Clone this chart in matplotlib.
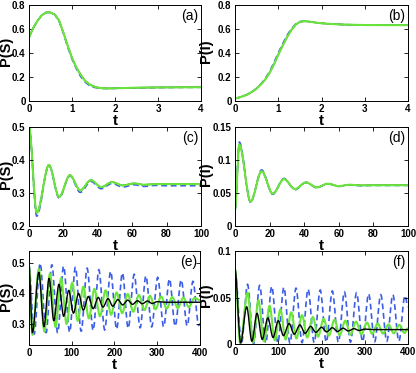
import matplotlib
matplotlib.use("Agg")
import matplotlib.pyplot as plt
from matplotlib.path import Path
from matplotlib.patches import PathPatch

plt.rcParams['font.family'] = ['Liberation Sans', 'DejaVu Sans']

BLACK = '#000000'
BLUE = '#3b5ee6'
GREEN = '#6ae63a'

# (a) P(S), short time
ta = [0, 0.1, 0.2, 0.3, 0.4, 0.5, 0.6, 0.7, 0.8, 0.9, 1.0, 1.1, 1.2, 1.3,
      1.4, 1.5, 1.6, 1.7, 1.8, 1.9, 2.0, 2.2, 2.5, 3.0, 3.5, 4.0]
a_black = [0.53, 0.61, 0.67, 0.715, 0.738, 0.738, 0.72, 0.67, 0.57, 0.46, 0.36, 0.28, 0.22, 0.17,
           0.14, 0.122, 0.112, 0.107, 0.105, 0.105, 0.106, 0.108, 0.111, 0.113, 0.114, 0.115]
a_blue = [0.53, 0.61, 0.67, 0.715, 0.738, 0.738, 0.72, 0.665, 0.565, 0.45, 0.35, 0.27, 0.205, 0.16,
          0.13, 0.115, 0.108, 0.105, 0.104, 0.104, 0.105, 0.107, 0.109, 0.112, 0.113, 0.114]
a_green = [0.53, 0.61, 0.67, 0.715, 0.738, 0.738, 0.72, 0.67, 0.57, 0.46, 0.36, 0.28, 0.22, 0.17,
           0.14, 0.122, 0.112, 0.107, 0.105, 0.105, 0.106, 0.108, 0.111, 0.113, 0.114, 0.115]

# (b) P(I), short time
tb = ta
b_black = [0.02, 0.03, 0.042, 0.057, 0.078, 0.104, 0.138, 0.18, 0.235, 0.305, 0.385, 0.46, 0.53, 0.59,
           0.635, 0.66, 0.665, 0.662, 0.657, 0.652, 0.648, 0.642, 0.637, 0.633, 0.632, 0.632]
b_blue = [0.02, 0.03, 0.042, 0.057, 0.078, 0.106, 0.142, 0.188, 0.245, 0.32, 0.40, 0.475, 0.545, 0.60,
          0.64, 0.662, 0.665, 0.662, 0.657, 0.652, 0.648, 0.642, 0.637, 0.633, 0.632, 0.632]
b_green = b_black

# (c) P(S), extrema up to t=100
tc = [0, 4.5, 11.6, 17.5, 23.8, 29.8, 36, 42, 48.3, 54.5, 61, 67, 73.5, 80, 100]
c_black = [0.5, 0.24, 0.385, 0.288, 0.354, 0.308, 0.339, 0.318, 0.333, 0.323, 0.329, 0.325, 0.327, 0.327, 0.327]
c_blue = [0.5, 0.23, 0.383, 0.285, 0.352, 0.302, 0.335, 0.313, 0.329, 0.318, 0.325, 0.32, 0.323, 0.322, 0.322]
c_green = c_black

# (d) P(I), extrema up to t=100
td = [0, 2.5, 9, 15.4, 21.8, 28.3, 34.7, 41, 47.3, 53.6, 60, 66.5, 73, 80, 100]
d_black = [0.025, 0.123, 0.037, 0.083, 0.049, 0.071, 0.056, 0.066, 0.0585, 0.064, 0.0605, 0.0625, 0.0615, 0.0618, 0.0618]
d_blue = [0.025, 0.127, 0.036, 0.085, 0.048, 0.072, 0.055, 0.066, 0.058, 0.064, 0.06, 0.0625, 0.061, 0.0615, 0.0615]
d_green = d_black

# (e) P(S), extrema up to t=400
te_black = [0, 8, 23, 35, 47, 58, 70, 81, 93, 104, 116, 127, 139, 150, 162, 173, 185, 196, 208,
            219, 231, 242, 254, 265, 277, 288, 300, 320, 400]
e_black = [0.49, 0.27, 0.47, 0.29, 0.45, 0.31, 0.43, 0.325, 0.41, 0.335, 0.40, 0.345, 0.39, 0.35, 0.387,
           0.355, 0.383, 0.358, 0.38, 0.362, 0.378, 0.364, 0.376, 0.366, 0.375, 0.367, 0.373, 0.371, 0.371]
te_blue = [0, 12, 26, 40, 53.5, 67, 81, 95, 108.5, 122, 136, 150, 163.5, 177, 191, 205, 218.5, 232,
           246, 260, 273.5, 287, 301, 315, 328.5, 342, 356, 370, 383.5, 397, 400]
e_blue = [0.49, 0.265, 0.50, 0.27, 0.495, 0.27, 0.49, 0.272, 0.487, 0.275, 0.483, 0.278, 0.478, 0.28,
          0.473, 0.282, 0.468, 0.285, 0.463, 0.287, 0.458, 0.29, 0.453, 0.29, 0.448, 0.292, 0.445,
          0.293, 0.44, 0.295, 0.30]
te_green = [0, 8, 23, 36, 49, 62, 75, 88, 101, 114, 127, 140, 153, 166, 179, 192, 205, 218, 231,
            244, 257, 270, 283, 296, 309, 322, 335, 348, 361, 374, 387, 400]
e_green = [0.49, 0.265, 0.48, 0.275, 0.465, 0.29, 0.45, 0.30, 0.435, 0.31, 0.422, 0.318, 0.415, 0.325,
           0.41, 0.33, 0.403, 0.335, 0.398, 0.34, 0.395, 0.345, 0.392, 0.348, 0.39, 0.35, 0.388, 0.352,
           0.386, 0.355, 0.385, 0.378]

# (f) P(I), extrema up to t=400
tf_black = [0, 13, 27, 39, 51, 63, 76, 88, 100, 112, 125, 137, 150, 162, 175, 187, 200, 212, 225,
            237, 250, 262, 275, 287, 300, 320, 400]
f_black = [0.08, 0.001, 0.04, 0.003, 0.033, 0.005, 0.028, 0.007, 0.025, 0.009, 0.022, 0.0105, 0.0205,
           0.0115, 0.019, 0.0125, 0.018, 0.013, 0.0175, 0.0135, 0.017, 0.014, 0.0165, 0.0145, 0.016,
           0.0155, 0.0155]
tf_blue = [0, 15, 29, 43, 57, 71, 85, 99, 113, 127, 141, 155, 169, 183, 197, 211, 225, 239, 253,
           267, 281, 295, 309, 323, 337, 351, 365, 379, 393, 400]
f_blue = [0.08, 0.0005, 0.064, 0.0005, 0.063, 0.001, 0.062, 0.001, 0.061, 0.001, 0.06, 0.0015, 0.059,
          0.0015, 0.058, 0.002, 0.057, 0.002, 0.056, 0.002, 0.055, 0.0025, 0.054, 0.0025, 0.053, 0.003,
          0.053, 0.003, 0.052, 0.04]
tf_green = [0, 12, 29, 42, 54, 67, 80, 92, 105, 117, 130, 142, 155, 167, 180, 192, 205, 217, 230,
            242, 255, 267, 280, 292, 305, 317, 330, 342, 355, 367, 380, 392, 400]
f_green = [0.08, 0.001, 0.055, 0.002, 0.047, 0.003, 0.041, 0.004, 0.037, 0.005, 0.034, 0.006, 0.031,
           0.007, 0.029, 0.008, 0.027, 0.009, 0.026, 0.0095, 0.025, 0.01, 0.024, 0.0105, 0.023, 0.011,
           0.022, 0.0112, 0.021, 0.0115, 0.0205, 0.0118, 0.017]


def smooth(ax, t, y, **kw):
    # cubic curve through the extrema, flat tangent at each of them
    verts = [(t[0], y[0])]
    codes = [Path.MOVETO]
    for i in range(1, len(t)):
        h = (t[i] - t[i - 1]) / 3.0
        verts += [(t[i - 1] + h, y[i - 1]), (t[i] - h, y[i]), (t[i], y[i])]
        codes += [Path.CURVE4] * 3
    ax.add_patch(PathPatch(Path(verts, codes), fill=False, **kw))


def style(ax, xt, xl, yt, yl, ylab, tag, labx):
    ax.set_xlim(xt[0], xt[-1])
    ax.set_xticks(xt)
    ax.set_xticklabels(xl)
    ax.set_yticks(yt)
    ax.set_yticklabels(yl)
    ax.tick_params(direction='in', length=3, width=0.6, top=True, right=True,
                   labelsize=7, pad=2.5)
    for lab in ax.get_xticklabels() + ax.get_yticklabels():
        lab.set_fontweight('bold')
    for s in ax.spines.values():
        s.set_linewidth(0.7)
    ax.set_xlabel('t', fontsize=11, fontweight='bold', labelpad=0)
    ax.set_ylabel(ylab, fontsize=10.5, fontweight='bold',
                  family=['Liberation Sans Narrow', 'DejaVu Sans Condensed', 'Liberation Sans'])
    ax.yaxis.set_label_coords(labx, 0.52)
    ax.text(0.985, 0.955, tag, transform=ax.transAxes, ha='right', va='top', fontsize=10)


fig = plt.figure(figsize=(4.16, 3.73), dpi=100)
W, H = 416.0, 373.0
ax_a = fig.add_axes([29 / W, 1 - 101 / H, 172 / W, 96 / H])
ax_b = fig.add_axes([235 / W, 1 - 101 / H, 173 / W, 96 / H])
ax_c = fig.add_axes([29 / W, 1 - 226 / H, 172 / W, 99 / H])
ax_d = fig.add_axes([235 / W, 1 - 226 / H, 173 / W, 99 / H])
ax_e = fig.add_axes([29 / W, 1 - 345 / H, 171 / W, 94 / H])
ax_f = fig.add_axes([235 / W, 1 - 344 / H, 173 / W, 93 / H])

lw = dict(black=1.0, blue=1.2, green=1.5)
dash = (0, (3.5, 2.2))

ax_a.plot(ta, a_black, color=BLACK, lw=lw['black'])
ax_a.plot(ta, a_blue, color=BLUE, lw=lw['blue'], ls=dash)
ax_a.plot(ta, a_green, color=GREEN, lw=lw['green'])
ax_b.plot(tb, b_black, color=BLACK, lw=lw['black'])
ax_b.plot(tb, b_blue, color=BLUE, lw=lw['blue'], ls=dash)
ax_b.plot(tb, b_green, color=GREEN, lw=lw['green'])

smooth(ax_c, tc, c_black, color=BLACK, lw=lw['black'])
smooth(ax_c, tc, c_blue, color=BLUE, lw=lw['blue'], ls=dash)
smooth(ax_c, tc, c_green, color=GREEN, lw=lw['green'])
smooth(ax_d, td, d_black, color=BLACK, lw=lw['black'])
smooth(ax_d, td, d_blue, color=BLUE, lw=lw['blue'], ls=dash)
smooth(ax_d, td, d_green, color=GREEN, lw=lw['green'])

smooth(ax_e, te_blue, e_blue, color=BLUE, lw=lw['blue'], ls=dash)
smooth(ax_e, te_green, e_green, color=GREEN, lw=lw['green'])
smooth(ax_e, te_black, e_black, color=BLACK, lw=lw['black'])
smooth(ax_f, tf_blue, f_blue, color=BLUE, lw=lw['blue'], ls=dash)
smooth(ax_f, tf_green, f_green, color=GREEN, lw=lw['green'])
smooth(ax_f, tf_black, f_black, color=BLACK, lw=lw['black'])

left = (12.5 - 29) / 172.0
right = (213.5 - 235) / 173.0
style(ax_a, [0, 1, 2, 3, 4], ['0', '1', '2', '3', '4'],
      [0, 0.2, 0.4, 0.6, 0.8], ['0', '0.2', '0.4', '0.6', '0.8'], 'P(S)', '(a)', left)
ax_a.set_ylim(0, 0.8)
style(ax_b, [0, 1, 2, 3, 4], ['0', '1', '2', '3', '4'],
      [0, 0.2, 0.4, 0.6, 0.8], ['0', '0.2', '0.4', '0.6', '0.8'], 'P(I)', '(b)', right)
ax_b.set_ylim(0, 0.8)
x100 = [0, 20, 40, 60, 80, 100]
style(ax_c, x100, [str(v) for v in x100],
      [0.2, 0.3, 0.4, 0.5], ['0.2', '0.3', '0.4', '0.5'], 'P(S)', '(c)', left)
ax_c.set_ylim(0.2, 0.5)
style(ax_d, x100, [str(v) for v in x100],
      [0, 0.05, 0.1, 0.15], ['0', '0.05', '0.1', '0.15'], 'P(I)', '(d)', right)
ax_d.set_ylim(0, 0.15)
x400 = [0, 100, 200, 300, 400]
style(ax_e, x400, [str(v) for v in x400],
      [0.3, 0.4, 0.5], ['0.3', '0.4', '0.5'], 'P(S)', '(e)', (12.5 - 29) / 171.0)
ax_e.set_ylim(0.23, 0.54)
style(ax_f, x400, [str(v) for v in x400],
      [0, 0.05, 0.1], ['0', '0.05', '0.1'], 'P(I)', '(f)', right)
ax_f.set_ylim(0, 0.1)

fig.savefig('out.png', dpi=100)
